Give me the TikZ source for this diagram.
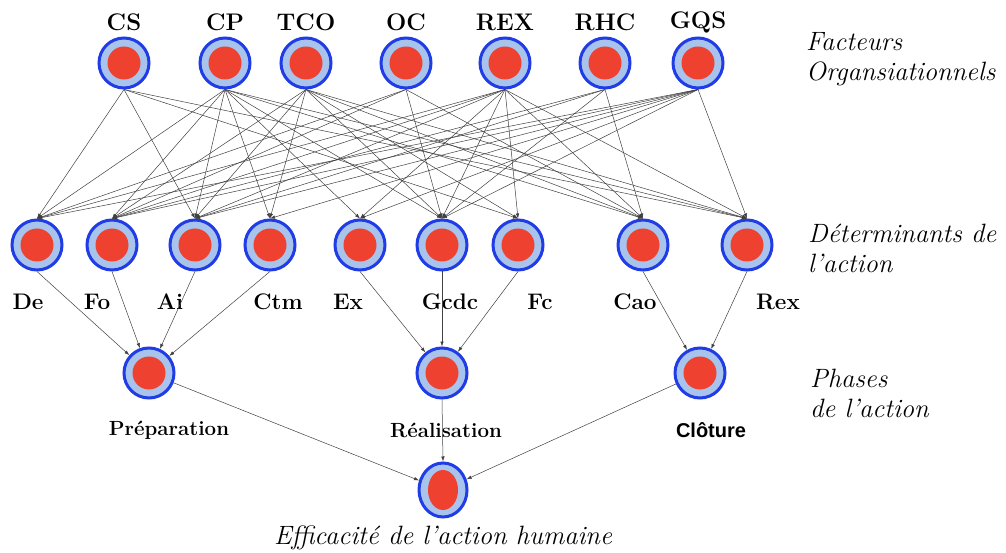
\documentclass[tikz,border=0pt]{standalone}
\usepackage{fontspec}
\newfontfamily\arialfont{Liberation Sans}
\usetikzlibrary{arrows.meta,shapes.geometric}
\definecolor{ringblue}{HTML}{1F3CE6}
\definecolor{lightblue}{HTML}{A8C4EC}
\definecolor{innerred}{HTML}{EE4130}
\tikzset{
  bnode/.style={circle, draw=ringblue, line width=3pt, fill=lightblue, minimum size=50pt, inner sep=0pt,
    path picture={\fill[innerred] (path picture bounding box.center) circle (16.5pt);}},
  enode/.style={ellipse, draw=ringblue, line width=3pt, fill=lightblue, minimum width=48pt, minimum height=54pt, inner sep=0pt,
    path picture={\fill[innerred] (path picture bounding box.center) ellipse (15pt and 20pt);}},
  toplab/.style={font=\fontsize{24}{24}\selectfont\bfseries, inner sep=0pt},
  midlab/.style={font=\fontsize{22.5}{22.5}\selectfont\bfseries, inner sep=0pt},
  phlab/.style={font=\fontsize{20.5}{20.5}\selectfont\bfseries, inner sep=0pt},
  sidelab/.style={font=\fontsize{26.5}{30}\selectfont\itshape, align=left, anchor=west, inner sep=0pt},
  conn/.style={draw=black!75, line width=0.5pt, -{Latex[length=5pt,width=3.5pt]}}
}
\begin{document}
\begin{tikzpicture}[x=1pt,y=-1pt]
\useasboundingbox (0,0) rectangle (1006,553);
% top layer
\foreach \n/\x in {CS/124,CP/225,TCO/306,OC/406,REX/505,RHC/605,GQS/698}{
  \node[bnode] (\n) at (\x,63) {};
  \node[toplab] (lab\n) at (\x,22) {\n};
}
% middle layer
\foreach \n/\x in {De/37,Fo/112,Ai/195,Ctm/270,Ex/360,Gcdc/442,Fc/518,Cao/643,Rex/747}{
  \node[bnode] (\n) at (\x,245) {};
}
\foreach \n/\x in {De/28,Fo/97,Ai/170,Ctm/278,Ex/348,Gcdc/450,Fc/540,Cao/635,Rex/778}{
  \node[midlab] (lab\n) at (\x,302) {\n};
}
% phases
\node[bnode] (Prep) at (149,373) {};
\node[bnode] (Real) at (442,373) {};
\node[bnode] (Clot) at (700,373) {};
\node[phlab] (labPrep) at (169,430) {Préparation};
\node[phlab] (labReal) at (446,430) {Réalisation};
\node[phlab, font=\arialfont\fontsize{20}{20}\selectfont\bfseries] (labClot) at (711,430) {Clôture};
% final
\node[enode] (Eff) at (443,490) {};
\node[font=\fontsize{26.5}{26.5}\selectfont\itshape, inner sep=0pt] (labEff) at (443,538) {Efficacité de l’action humaine};
% side labels
\node[sidelab] (sideA) at (806,59) {Facteurs\\Organsiationnels};
\node[sidelab] (sideB) at (808,248) {Déterminants de\\l’action};
\node[sidelab] (sideC) at (810,393) {Phases\\de l’action};
% edges top -> middle
\foreach \s/\t in {CS/De,CS/Ai,CS/Fc,CS/Rex,
  CP/De,CP/Fo,CP/Ai,CP/Ctm,CP/Ex,CP/Gcdc,CP/Cao,CP/Rex,
  TCO/Fo,TCO/Ai,TCO/Ctm,TCO/Gcdc,TCO/Fc,TCO/Cao,TCO/Rex,
  OC/De,OC/Fo,OC/Gcdc,OC/Cao,
  REX/De,REX/Fo,REX/Ai,REX/Ex,REX/Gcdc,REX/Fc,REX/Cao,REX/Rex,
  RHC/Fo,RHC/Ai,RHC/Gcdc,RHC/Cao,
  GQS/De,GQS/Fo,GQS/Ai,GQS/Ctm,GQS/Ex,GQS/Gcdc,GQS/Rex}{
  \draw[conn] (\s.south) -- (\t.north);
}
% middle -> phases
\foreach \s/\t in {De/Prep,Fo/Prep,Ai/Prep,Ctm/Prep,Ex/Real,Fc/Real,Cao/Clot,Rex/Clot}{
  \draw[conn] (\s.south) -- (\t);
}
\draw[conn] (Gcdc.south) -- (Real.north);
% phases -> final
\draw[conn] (Prep) -- (Eff);
\draw[conn] (Real.south) -- (Eff.north);
\draw[conn] (Clot) -- (Eff);
\end{tikzpicture}
\end{document}
